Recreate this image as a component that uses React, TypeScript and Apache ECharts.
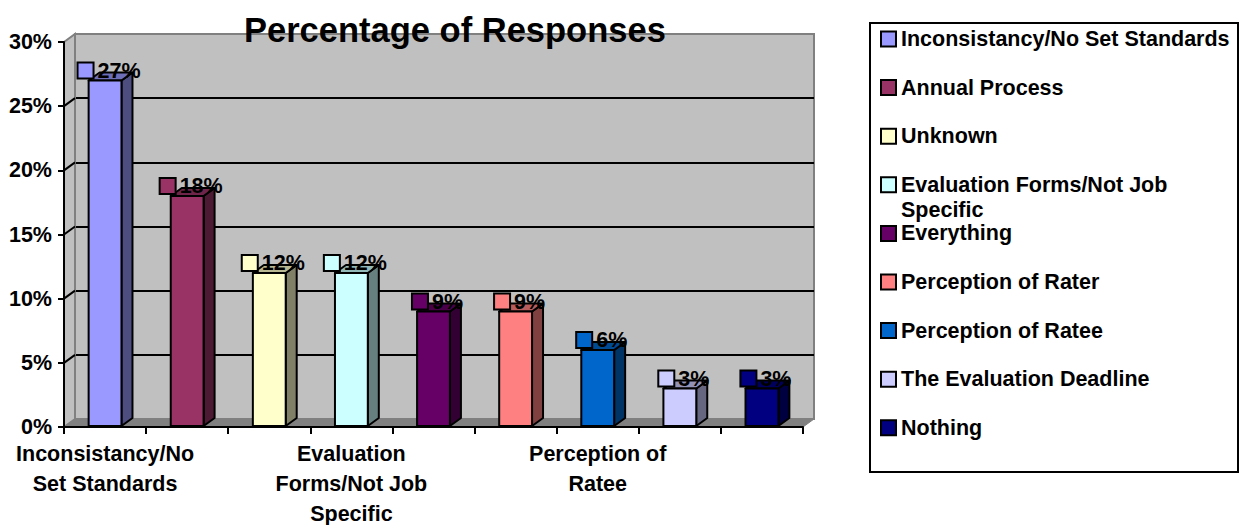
import React, { useEffect, useRef } from "react";
import * as echarts from "echarts";

const categories = [
  "Inconsistancy/No Set Standards",
  "Annual Process",
  "Unknown",
  "Evaluation Forms/Not Job Specific",
  "Everything",
  "Perception of Rater",
  "Perception of Ratee",
  "The Evaluation Deadline",
  "Nothing",
];
const values = [27, 18, 12, 12, 9, 9, 6, 3, 3];
const colors = ["#9999FF", "#993366", "#FFFFCC", "#CCFFFF", "#660066", "#FF8080", "#0066CC", "#CCCCFF", "#000080"];
const xTickLabels = [
  "Inconsistancy/No\nSet Standards",
  "",
  "",
  "Evaluation\nForms/Not Job\nSpecific",
  "",
  "",
  "Perception of\nRatee",
  "",
  "",
];
const legendLabels = [
  "Inconsistancy/No Set Standards",
  "Annual Process",
  "Unknown",
  "Evaluation Forms/Not Job\nSpecific",
  "Everything",
  "Perception of Rater",
  "Perception of Ratee",
  "The Evaluation Deadline",
  "Nothing",
];
const yTicks = [0, 5, 10, 15, 20, 25, 30];
const titleText = "Percentage of Responses";

const FONT = '"Liberation Sans", Arial, sans-serif';
const FS = 21.5;
const DX = 11;
const DY = 8;

function shade(hex: string, f: number) {
  const n = parseInt(hex.slice(1), 16);
  const r = Math.round(((n >> 16) & 255) * f);
  const g = Math.round(((n >> 8) & 255) * f);
  const b = Math.round((n & 255) * f);
  return `rgb(${r},${g},${b})`;
}

export default function App() {
  const ref = useRef<HTMLDivElement>(null);
  useEffect(() => {
    if (!ref.current) return;
    const chart = echarts.init(ref.current, null, { renderer: "svg" });

    const legendGraphics: any[] = [
      {
        type: "rect",
        shape: { x: 870, y: 23, width: 368, height: 449 },
        style: { fill: "#fff", stroke: "#000", lineWidth: 2 },
        z: 10,
      },
    ];
    legendLabels.forEach((name, i) => {
      const c = 39 + i * 48.6;
      legendGraphics.push({
        type: "rect",
        shape: { x: 881, y: c - 7.5, width: 15, height: 15 },
        style: { fill: colors[i], stroke: "#000", lineWidth: 2 },
        z: 11,
      });
      legendGraphics.push({
        type: "text",
        x: 901,
        y: c - 12.5,
        style: {
          text: name,
          fill: "#000",
          fontSize: FS,
          fontWeight: "bold",
          fontFamily: FONT,
          lineHeight: 25,
          verticalAlign: "top",
          align: "left",
        },
        z: 11,
      });
    });

    const option: any = {
      animation: false,
      backgroundColor: "#fff",
      title: {
        text: titleText,
        left: 239,
        top: 7,
        textStyle: { fontSize: 34.5, fontWeight: "bold", color: "#000", fontFamily: FONT },
        z: 20,
      },
      grid: [
        { left: 64, top: 42, width: 739, height: 385, show: false, containLabel: false, outerBoundsMode: "none" },
        {
          left: 64 + DX,
          top: 42 - DY,
          width: 739,
          height: 385,
          show: true,
          containLabel: false,
          outerBoundsMode: "none",
          backgroundColor: "#C0C0C0",
          borderColor: "#808080",
          borderWidth: 2,
        },
      ],
      xAxis: [
        {
          gridIndex: 0,
          type: "category",
          data: categories,
          z: 5,
          axisLine: { show: true, lineStyle: { color: "#000", width: 2 } },
          axisTick: { show: true, interval: 0, length: 7, lineStyle: { color: "#000", width: 2 } },
          axisLabel: {
            interval: 0,
            formatter: (_v: string, i: number) => xTickLabels[i],
            color: "#000",
            fontSize: FS,
            fontWeight: "bold",
            fontFamily: FONT,
            lineHeight: 30,
            margin: 12,
          },
        },
        { gridIndex: 1, type: "category", data: categories, show: false },
      ],
      yAxis: [
        {
          gridIndex: 0,
          type: "value",
          min: 0,
          max: 30,
          interval: 5,
          z: 5,
          axisLine: { show: true, lineStyle: { color: "#000", width: 2 } },
          axisTick: { show: true, length: 6, lineStyle: { color: "#000", width: 2 } },
          axisLabel: {
            formatter: "{value}%",
            color: "#000",
            fontSize: FS,
            fontWeight: "bold",
            fontFamily: FONT,
            margin: 12,
          },
          splitLine: { show: false },
        },
        {
          gridIndex: 1,
          type: "value",
          min: 0,
          max: 30,
          interval: 5,
          axisLine: { show: false },
          axisTick: { show: false },
          axisLabel: { show: false },
          splitLine: {
            show: true,
            showMinLine: false,
            showMaxLine: false,
            lineStyle: { color: "#000", width: 2 },
          },
        },
      ],
      graphic: legendGraphics,
      series: [
        {
          type: "custom",
          name: "walls",
          xAxisIndex: 0,
          yAxisIndex: 0,
          clip: false,
          z: 1,
          silent: true,
          data: [[0, 0]],
          renderItem: (params: any, api: any) => {
            const cs = params.coordSys;
            const left = cs.x;
            const right = cs.x + cs.width;
            const topY = cs.y;
            const bottom = cs.y + cs.height;
            const children: any[] = [
              {
                type: "polygon",
                shape: { points: [[left, topY], [left + DX, topY - DY], [left + DX, bottom - DY], [left, bottom]] },
                style: { fill: "#C0C0C0", stroke: "#808080", lineWidth: 2 },
              },
              {
                type: "polygon",
                shape: { points: [[left, bottom], [left + DX, bottom - DY], [right + DX, bottom - DY], [right, bottom]] },
                style: { fill: "#808080", stroke: "#808080", lineWidth: 1 },
              },
            ];
            yTicks.slice(1, -1).forEach((t) => {
              const y = api.coord([0, t])[1];
              children.push({
                type: "line",
                shape: { x1: left, y1: y, x2: left + DX, y2: y - DY },
                style: { stroke: "#000", lineWidth: 2 },
              });
            });
            return { type: "group", children };
          },
        },
        {
          type: "custom",
          name: "bars",
          xAxisIndex: 0,
          yAxisIndex: 0,
          clip: false,
          z: 3,
          data: values.map((v, i) => [i, v]),
          renderItem: (_params: any, api: any) => {
            const i = api.value(0);
            const v = api.value(1);
            const top = api.coord([i, v]);
            const base = api.coord([i, 0]);
            const cw = api.size([1, 0])[0];
            const w = cw * 0.4;
            const x0 = top[0] - w / 2;
            const x1 = x0 + w;
            const yt = top[1];
            const yb = base[1] - 1;
            const col = colors[i];
            const stroke = { stroke: "#000", lineWidth: 2, lineJoin: "round" };
            return {
              type: "group",
              children: [
                {
                  type: "polygon",
                  shape: { points: [[x1, yt], [x1 + DX, yt - DY], [x1 + DX, yb - DY], [x1, yb]] },
                  style: { fill: shade(col, 0.5), ...stroke },
                },
                {
                  type: "polygon",
                  shape: { points: [[x0, yt], [x0 + DX, yt - DY], [x1 + DX, yt - DY], [x1, yt]] },
                  style: { fill: shade(col, 0.72), ...stroke },
                },
                {
                  type: "rect",
                  shape: { x: x0, y: yt, width: w, height: yb - yt },
                  style: { fill: col, ...stroke },
                },
                {
                  type: "text",
                  x: x0 + (w + DX) / 2 - 1,
                  y: yt - 10,
                  z2: 10,
                  style: {
                    text: `{k|}{t|${v}%}`,
                    align: "center",
                    verticalAlign: "middle",
                    fontFamily: FONT,
                    rich: {
                      k: {
                        width: 14,
                        height: 14,
                        backgroundColor: col,
                        borderColor: "#000",
                        borderWidth: 2,
                      },
                      t: {
                        fontSize: FS,
                        fontWeight: "bold",
                        fontFamily: FONT,
                        fill: "#000",
                        color: "#000",
                        padding: [0, 0, 0, 5],
                      },
                    },
                  },
                },
              ],
            };
          },
        },
      ],
    };
    chart.setOption(option);
    return () => chart.dispose();
  }, []);
  return (
    <div
      ref={ref}
      style={{ position: "absolute", left: 0, top: 0, width: 1244, height: 525, background: "#fff" }}
    />
  );
}
